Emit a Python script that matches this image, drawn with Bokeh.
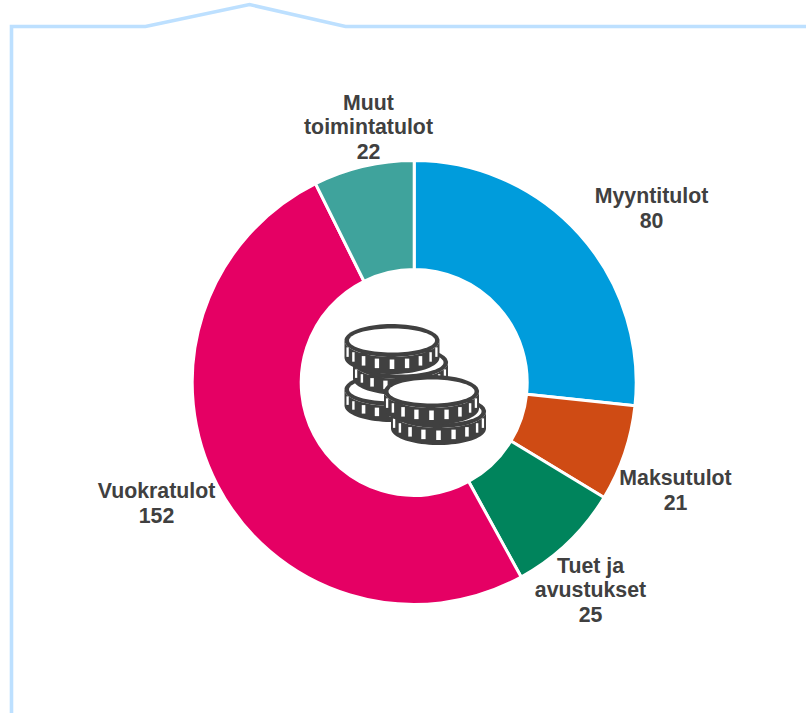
import numpy as np
from bokeh.plotting import figure
from bokeh.models import Range1d
from bokeh.core.properties import value
from bokeh.embed import file_html
from bokeh.resources import INLINE

categories = ["Myyntitulot", "Maksutulot", "Tuet ja\navustukset", "Vuokratulot", "Muut\ntoimintatulot"]
values = [80, 21, 25, 152, 22]
colors = ["#009CDC", "#CF4B14", "#00845C", "#E50064", "#3FA39C"]
label_centers = [(651, 207.5), (675, 489.5), (590, 589.5), (156, 502.5), (368, 126.5)]

W, H = 806, 713
DARK = "#404040"
FRAME = "#BDE0FF"


def Y(v):
    return H - np.asarray(v, dtype=float)


p = figure(width=W, height=H, x_range=Range1d(0, W), y_range=Range1d(0, H),
           toolbar_location=None, output_backend="svg", min_border=0,
           styles={"position": "absolute", "left": "0px", "top": "0px"})
p.axis.visible = False
p.grid.visible = False
p.outline_line_color = None
p.background_fill_color = "white"

# frame
fx = [11, 11, 145, 249, 345, W]
fy = [H, 26, 26, 4, 26, 26]
p.line(fx, Y(fy), line_color=FRAME, line_width=3.6, line_join="miter")

# donut
cx, cy = 413.7, 382
v = np.array(values, dtype=float)
edges = np.concatenate([[0], np.cumsum(v)]) / v.sum() * 2 * np.pi
p.annular_wedge(x=[cx] * len(v), y=list(Y([cy] * len(v))), inner_radius=113, outer_radius=222,
                start_angle=list(np.pi / 2 - edges[:-1]), end_angle=list(np.pi / 2 - edges[1:]),
                direction="clock", fill_color=colors, line_color="white", line_width=3)

# labels
LH = 24.3
for cat, val, (lx, ly) in zip(categories, values, label_centers):
    lines = cat.split("\n") + [str(val)]
    for i, t in enumerate(lines):
        yy = ly + (i - (len(lines) - 1) / 2) * LH
        p.text([lx], [float(Y(yy))], text=[t], text_font=value("Liberation Sans"),
               text_font_style="bold", text_font_size="21.3px", text_color=DARK,
               text_align="center", text_baseline="middle")


# coin icon
def coin(x0, y0, h, rx=47.5, ry=16.5, n=9):
    t = np.linspace(0, 2 * np.pi, 80)
    tb = np.linspace(0, np.pi, 40)
    bx = np.concatenate([x0 + rx * np.cos(tb), x0 + rx * np.cos(tb[::-1])])
    by = np.concatenate([y0 + h + ry * np.sin(tb), y0 + ry * np.sin(tb[::-1]) - 0])
    p.patch(bx, Y(by), fill_color=DARK, line_color=None)
    p.patch(x0 + rx * np.cos(t), Y(y0 + ry * np.sin(t)), fill_color=DARK, line_color=None)
    p.patch(x0 + (rx - 4.5) * np.cos(t), Y(y0 + (ry - 4.5) * np.sin(t)), fill_color="white", line_color=None)
    for a in np.linspace(0.07, 0.93, n) * np.pi:
        mx = x0 + (rx - 2) * np.cos(a)
        top = y0 + (ry - 1) * np.sin(a) + 3.5
        bot = y0 + h + (ry - 1) * np.sin(a) - 4
        hw = 2.3 * max(np.sin(a), 0.5)
        p.patch([mx - hw, mx + hw, mx + hw, mx - hw], Y([top, top, bot, bot]), fill_color="white", line_color=None)


coin(391.5, 389, 16)   # lower left
coin(400, 362, 16)     # back
coin(391.5, 340, 17)   # upper left
coin(438, 411, 17)     # lower right
coin(431, 391, 17)     # front

open("out.html", "w").write(file_html(p, INLINE))
